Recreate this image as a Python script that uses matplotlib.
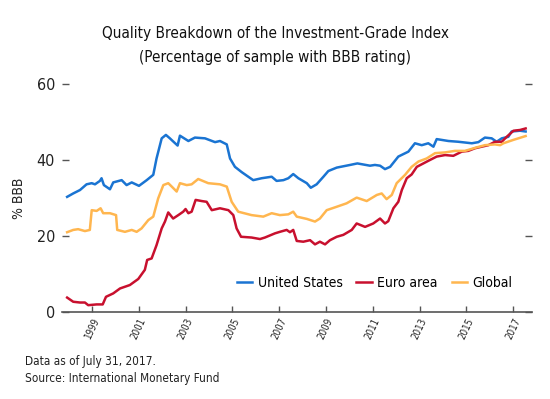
import matplotlib
matplotlib.use("Agg")
import matplotlib.pyplot as plt

plt.rcParams['font.family'] = ['DejaVu Sans']
plt.rcParams['font.stretch'] = 'condensed'

# Values (decimal year, % BBB)
us_years = [1997.94, 1998.20, 1998.49, 1998.77, 1998.99, 1999.13, 1999.34, 1999.41, 1999.51,
            1999.77, 1999.91, 2000.27, 2000.48, 2000.70, 2001.01, 2001.34, 2001.62, 2001.76,
            2001.98, 2002.16, 2002.33, 2002.45, 2002.66, 2002.76, 2003.12, 2003.40, 2003.83,
            2004.26, 2004.47, 2004.76, 2004.90, 2005.11, 2005.40, 2005.89, 2006.25, 2006.68,
            2006.89, 2007.18, 2007.39, 2007.60, 2007.82, 2008.18, 2008.35, 2008.60, 2008.89,
            2009.10, 2009.46, 2010.03, 2010.34, 2010.88, 2011.09, 2011.31, 2011.52, 2011.74,
            2012.09, 2012.52, 2012.80, 2013.09, 2013.37, 2013.59, 2013.73, 2014.23, 2014.65,
            2015.23, 2015.51, 2015.79, 2016.08, 2016.29, 2016.51, 2016.79, 2016.93, 2017.29,
            2017.53]
us_values = [30.3, 31.2, 32.1, 33.6, 33.9, 33.6, 34.5, 35.2, 33.4,
             32.3, 34.1, 34.7, 33.4, 34.1, 33.2, 34.7, 36.1, 40.4,
             45.7, 46.6, 45.7, 45.0, 43.8, 46.4, 45.0, 45.9, 45.7,
             44.7, 45.0, 44.1, 40.4, 38.2, 36.8, 34.7, 35.2, 35.6,
             34.5, 34.7, 35.2, 36.3, 35.2, 33.9, 32.7, 33.6, 35.6,
             37.1, 38.0, 38.7, 39.1, 38.5, 38.7, 38.5, 37.6, 38.2,
             40.9, 42.2, 44.4, 43.9, 44.4, 43.5, 45.5, 45.0, 44.8,
             44.4, 44.7, 45.9, 45.7, 44.8, 45.7, 46.1, 47.5, 47.7,
             47.5]

euro_years = [1997.94, 1998.20, 1998.49, 1998.70, 1998.84, 1999.20, 1999.46, 1999.60, 1999.91,
              2000.20, 2000.62, 2000.98, 2001.26, 2001.36, 2001.55, 2001.76, 2001.98, 2002.12,
              2002.26, 2002.47, 2002.69, 2002.90, 2003.00, 2003.12, 2003.26, 2003.43, 2003.69,
              2003.90, 2004.12, 2004.47, 2004.83, 2005.04, 2005.18, 2005.37, 2005.82, 2006.18,
              2006.39, 2006.82, 2007.03, 2007.32, 2007.46, 2007.60, 2007.75, 2008.03, 2008.32,
              2008.53, 2008.74, 2008.96, 2009.17, 2009.46, 2009.74, 2010.10, 2010.31, 2010.67,
              2011.02, 2011.31, 2011.52, 2011.66, 2011.88, 2012.09, 2012.24, 2012.45, 2012.66,
              2012.88, 2013.16, 2013.44, 2013.73, 2014.09, 2014.44, 2014.80, 2015.08, 2015.37,
              2015.65, 2015.94, 2016.22, 2016.51, 2016.72, 2017.01, 2017.29, 2017.53]
euro_values = [3.8, 2.7, 2.5, 2.5, 1.8, 2.0, 2.0, 4.0, 4.9,
               6.2, 7.1, 8.7, 11.1, 13.7, 14.1, 17.6, 22.0, 23.8,
               26.2, 24.6, 25.5, 26.4, 27.1, 26.0, 26.4, 29.5, 29.2,
               29.0, 26.8, 27.3, 26.8, 25.5, 22.0, 19.8, 19.6, 19.2,
               19.6, 20.7, 21.1, 21.6, 21.0, 21.6, 18.7, 18.5, 18.9,
               17.8, 18.5, 17.8, 18.9, 19.8, 20.3, 21.6, 23.3, 22.4,
               23.3, 24.6, 23.3, 23.9, 27.3, 29.0, 32.1, 35.2, 36.2,
               38.2, 39.1, 40.0, 40.9, 41.3, 41.1, 42.2, 42.4, 43.1,
               43.5, 43.9, 44.8, 44.8, 46.1, 47.7, 47.9, 48.3]

global_years = [1997.94, 1998.20, 1998.41, 1998.70, 1998.91, 1998.99, 1999.20, 1999.37, 1999.48,
                1999.77, 2000.03, 2000.08, 2000.41, 2000.70, 2000.91, 2001.12, 2001.41, 2001.62,
                2001.83, 2002.05, 2002.26, 2002.41, 2002.62, 2002.76, 2003.05, 2003.26, 2003.54,
                2003.97, 2004.47, 2004.76, 2004.97, 2005.25, 2005.82, 2006.32, 2006.68, 2007.03,
                2007.39, 2007.60, 2007.75, 2008.18, 2008.53, 2008.74, 2009.03, 2009.46, 2009.88,
                2010.31, 2010.74, 2011.17, 2011.38, 2011.59, 2011.81, 2012.02, 2012.38, 2012.66,
                2012.95, 2013.30, 2013.66, 2014.09, 2014.51, 2014.94, 2015.37, 2015.79, 2016.22,
                2016.44, 2016.58, 2017.01, 2017.53]
global_values = [21.0, 21.6, 21.8, 21.3, 21.6, 26.8, 26.6, 27.3, 26.0,
                 26.0, 25.5, 21.6, 21.1, 21.6, 21.1, 22.0, 24.2, 25.1,
                 29.9, 33.4, 33.9, 33.0, 31.7, 33.9, 33.4, 33.6, 35.0,
                 33.9, 33.6, 33.0, 29.0, 26.4, 25.5, 25.1, 26.0, 25.5,
                 25.7, 26.4, 25.1, 24.5, 23.8, 24.6, 26.8, 27.7, 28.6,
                 30.1, 29.2, 30.8, 31.2, 29.7, 30.8, 33.9, 36.1, 38.2,
                 39.6, 40.4, 41.8, 42.0, 42.4, 42.4, 43.2, 43.9, 44.1,
                 43.9, 44.4, 45.3, 46.3]

year_ticks = list(range(1999, 2018, 2))
value_ticks = [0, 20, 40, 60]

fig = plt.figure(figsize=(5.5, 3.99), dpi=100)
ax = fig.add_axes([0.1127, 0.218, 0.8545, 0.5715])

ax.plot(us_years, us_values, color='#1a74d2', lw=1.8, label='United States')
ax.plot(euro_years, euro_values, color='#c8102e', lw=1.8, label='Euro area')
ax.plot(global_years, global_values, color='#ffb64f', lw=1.8, label='Global')
ax.set_xlim(1997.72, 2017.80)
ax.set_ylim(0, 60)

for side in ['top', 'left', 'right']:
    ax.spines[side].set_visible(False)
ax.spines['bottom'].set_color('#555555')
ax.spines['bottom'].set_linewidth(1.2)

ax.set_yticks(value_ticks)
ax.set_yticklabels([str(v) for v in value_ticks], fontsize=11.5, color='#222222')
ax.tick_params(axis='y', direction='in', length=5, width=1, color='#555555',
               left=True, right=True, pad=5)
ax.set_xticks(year_ticks)
ax.set_xticklabels([str(y) for y in year_ticks], fontsize=7, rotation=65,
                   ha='right', va='top', rotation_mode='anchor', color='#222222')
ax.tick_params(axis='x', direction='in', length=4, width=1, color='#555555', pad=3)

ax.set_ylabel('% BBB', fontsize=10, color='#222222', labelpad=8)

ax.legend(loc='center left', bbox_to_anchor=(0.372, 0.127), ncol=3, frameon=False,
          fontsize=10, handlelength=1.1, handletextpad=0.4, columnspacing=1.0,
          borderpad=0, borderaxespad=0)

fig.text(0.5, 0.917, 'Quality Breakdown of the Investment-Grade Index',
         ha='center', va='center', fontsize=11, color='#111111')
fig.text(0.5, 0.857, '(Percentage of sample with BBB rating)',
         ha='center', va='center', fontsize=11, color='#111111')

fig.text(0.045, 0.095, 'Data as of July 31, 2017.', fontsize=8.5, color='#222222', va='center')
fig.text(0.045, 0.052, 'Source: International Monetary Fund', fontsize=8.5, color='#222222', va='center')

fig.savefig('out.png', dpi=100)
